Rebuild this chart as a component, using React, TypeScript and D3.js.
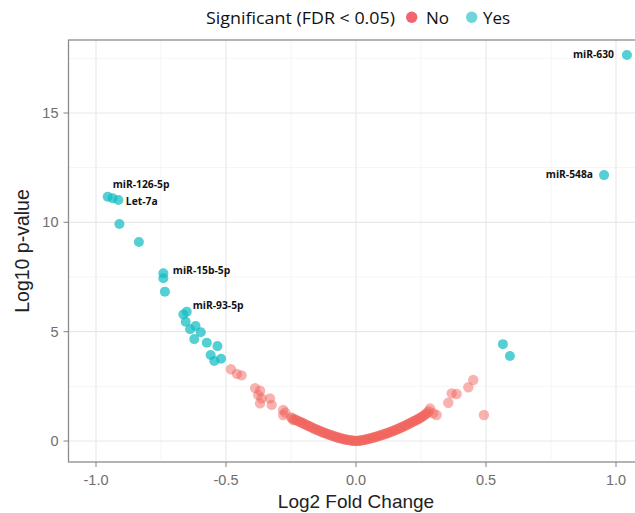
import React from "react";
import * as d3 from "d3";

// Significant (FDR < 0.05 = Yes)
const sigX = [1.042, 0.954, 0.565, 0.592, -0.955, -0.936, -0.914, -0.910, -0.835, -0.741, -0.741, -0.735, -0.664, -0.651, -0.655, -0.638, -0.617, -0.597, -0.622, -0.574, -0.533, -0.559, -0.545, -0.519];
const sigY = [17.65, 12.16, 4.43, 3.89, 11.17, 11.10, 11.02, 9.92, 9.10, 7.67, 7.44, 6.83, 5.79, 5.91, 5.45, 5.11, 5.26, 4.97, 4.66, 4.49, 4.34, 3.93, 3.66, 3.76];

// Not significant (No)
const nsX = [
  -0.481, -0.458, -0.440, -0.388, -0.369, -0.376, -0.363, -0.369, -0.331, -0.324, -0.280, -0.280, -0.272, -0.241,
  -0.250, -0.245, -0.238, -0.232, -0.226, -0.220, -0.215, -0.210, -0.205, -0.200, -0.195, -0.190, -0.185, -0.180,
  -0.175, -0.170, -0.165, -0.160, -0.155, -0.150, -0.145, -0.140, -0.135, -0.130, -0.125, -0.120, -0.115, -0.110,
  -0.105, -0.100, -0.095, -0.090, -0.085, -0.080, -0.075, -0.070, -0.065, -0.060, -0.055, -0.050, -0.045, -0.040,
  -0.035, -0.030, -0.025, -0.020, -0.015, -0.010, -0.005, 0.000,
  0.005, 0.010, 0.015, 0.020, 0.025, 0.030, 0.035, 0.040, 0.045, 0.050, 0.055, 0.060, 0.065, 0.070, 0.075, 0.080,
  0.085, 0.090, 0.095, 0.100, 0.105, 0.110, 0.115, 0.120, 0.125, 0.130, 0.135, 0.140, 0.145, 0.150, 0.155, 0.160,
  0.165, 0.170, 0.175, 0.180, 0.185, 0.190, 0.195, 0.200, 0.205, 0.210, 0.215, 0.220, 0.225, 0.230, 0.235, 0.240,
  0.245, 0.250, 0.255, 0.260, 0.265, 0.270, 0.275, 0.280,
  0.285, 0.297, 0.310, 0.355, 0.368, 0.387, 0.432, 0.451, 0.492
];
const nsY = [
  3.28, 3.07, 3.00, 2.42, 2.30, 2.10, 1.95, 1.72, 1.95, 1.65, 1.42, 1.19, 1.30, 0.96,
  1.08, 1.04, 1.00, 0.97, 0.93, 0.90, 0.87, 0.85, 0.82, 0.79, 0.76, 0.73, 0.70, 0.68,
  0.65, 0.62, 0.59, 0.56, 0.54, 0.51, 0.49, 0.46, 0.44, 0.41, 0.39, 0.37, 0.35, 0.32,
  0.30, 0.28, 0.26, 0.24, 0.22, 0.20, 0.18, 0.16, 0.15, 0.13, 0.11, 0.10, 0.08, 0.07,
  0.06, 0.05, 0.04, 0.03, 0.02, 0.01, 0.005, 0.00,
  0.005, 0.01, 0.02, 0.03, 0.04, 0.05, 0.06, 0.08, 0.09, 0.11, 0.12, 0.14, 0.15, 0.17, 0.19, 0.21,
  0.22, 0.24, 0.26, 0.28, 0.30, 0.32, 0.34, 0.36, 0.38, 0.40, 0.43, 0.45, 0.47, 0.50, 0.52, 0.55,
  0.57, 0.60, 0.63, 0.65, 0.68, 0.71, 0.74, 0.77, 0.80, 0.83, 0.86, 0.89, 0.92, 0.95, 0.98, 1.01,
  1.04, 1.08, 1.12, 1.16, 1.20, 1.25, 1.30, 1.36,
  1.49, 1.27, 1.19, 1.75, 2.18, 2.15, 2.46, 2.79, 1.19
];

// Labelled miRNAs (index into sig arrays)
const labelNames = ["miR-630", "miR-548a", "miR-126-5p", "Let-7a", "miR-15b-5p", "miR-93-5p"];
const labelIdx = [0, 1, 4, 6, 9, 13];

const xTicks = [-1.0, -0.5, 0.0, 0.5, 1.0];
const xMinor = [-0.75, -0.25, 0.25, 0.75];
const yTicks = [0, 5, 10, 15];
const yMinor = [2.5, 7.5, 12.5, 17.5];

const legendTitle = "Significant (FDR < 0.05)";
const legendLabels = ["No", "Yes"];

export default function App() {
  const W = 635, H = 513;
  const left = 68.5, top = 40, right = 642, bottom = 462;
  const x = d3.scaleLinear().domain([-1, 1]).range([96, 616]);
  const y = d3.scaleLinear().domain([0, 15]).range([441, 113]);

  const red = "#F2655F";
  const cyan = "#12BCC2";

  // label pixel offsets [dx, dy, anchor]
  const labelOff: [number, number, string][] = [
    [-13, 3, "end"],
    [-11, 3, "end"],
    [5, -8.5, "start"],
    [7.5, 5, "start"],
    [9.5, 1, "start"],
    [6, -2.5, "start"],
  ];

  const font = "'Liberation Sans', Arial, sans-serif";
  const lfont = "'Open Sans', 'Noto Sans', sans-serif";

  return (
    <svg width={W} height={H} style={{ position: "absolute", left: 0, top: 0, background: "#fff" }}>
      <defs>
        <clipPath id="panel">
          <rect x={left} y={top} width={right - left} height={bottom - top} />
        </clipPath>
      </defs>
      <rect x={0} y={0} width={W} height={H} fill="#fff" />
      <g clipPath="url(#panel)">
        {xMinor.map((t) => (
          <line key={"xm" + t} x1={x(t)} x2={x(t)} y1={top} y2={bottom} stroke="#f2f2f2" strokeWidth={0.8} />
        ))}
        {yMinor.map((t) => (
          <line key={"ym" + t} y1={y(t)} y2={y(t)} x1={left} x2={right} stroke="#f2f2f2" strokeWidth={0.8} />
        ))}
        {xTicks.map((t) => (
          <line key={"xg" + t} x1={x(t)} x2={x(t)} y1={top} y2={bottom} stroke="#e8e8e8" strokeWidth={1.1} />
        ))}
        {yTicks.map((t) => (
          <line key={"yg" + t} y1={y(t)} y2={y(t)} x1={left} x2={right} stroke="#e8e8e8" strokeWidth={1.1} />
        ))}
        {nsX.map((v, i) => (
          <circle key={"n" + i} cx={x(v)} cy={y(nsY[i])} r={5.2} fill={red} fillOpacity={0.5} />
        ))}
        {sigX.map((v, i) => (
          <circle key={"s" + i} cx={x(v)} cy={y(sigY[i])} r={5} fill={cyan} fillOpacity={0.72} />
        ))}
      </g>
      {labelIdx.map((idx, k) => (
        <text
          key={"l" + k}
          x={x(sigX[idx]) + labelOff[k][0]}
          y={y(sigY[idx]) + labelOff[k][1]}
          textAnchor={labelOff[k][2] as any}
          fontFamily={lfont}
          fontWeight={700}
          fontSize={10.3}
          fill="#111"
        >
          {labelNames[k]}
        </text>
      ))}
      <rect x={left} y={top} width={right - left} height={bottom - top} fill="none" stroke="#8c8c8c" strokeWidth={1.3} />
      {xTicks.map((t) => (
        <g key={"xt" + t}>
          <line x1={x(t)} x2={x(t)} y1={bottom} y2={bottom + 5} stroke="#8c8c8c" strokeWidth={1.1} />
          <text x={x(t)} y={485} textAnchor="middle" fontFamily={font} fontSize={14.5} fill="#6e6e6e">
            {t.toFixed(1)}
          </text>
        </g>
      ))}
      {yTicks.map((t) => (
        <g key={"yt" + t}>
          <line x1={left - 5} x2={left} y1={y(t)} y2={y(t)} stroke="#8c8c8c" strokeWidth={1.1} />
          <text x={left - 10} y={y(t) + 5} textAnchor="end" fontFamily={font} fontSize={14.5} fill="#6e6e6e">
            {t}
          </text>
        </g>
      ))}
      <text x={356} y={508} textAnchor="middle" fontFamily={font} fontSize={19} fill="#222">
        Log2 Fold Change
      </text>
      <text
        transform={`translate(29,${(top + bottom) / 2}) rotate(-90)`}
        textAnchor="middle"
        fontFamily={font}
        fontSize={19.5}
        fill="#222"
      >
        Log10 p-value
      </text>
      <text x={206} y={24} fontFamily={lfont} fontSize={17} textLength={189} lengthAdjust="spacingAndGlyphs" fill="#111">
        {legendTitle}
      </text>
      <circle cx={411.7} cy={17.3} r={5.7} fill="#F2545E" fillOpacity={0.9} />
      <text x={426} y={24} fontFamily={lfont} fontSize={17} fill="#111">
        {legendLabels[0]}
      </text>
      <circle cx={471.7} cy={17.3} r={5.7} fill="#6ED6DA" />
      <text x={483} y={24} fontFamily={lfont} fontSize={17} fill="#111">
        {legendLabels[1]}
      </text>
    </svg>
  );
}
